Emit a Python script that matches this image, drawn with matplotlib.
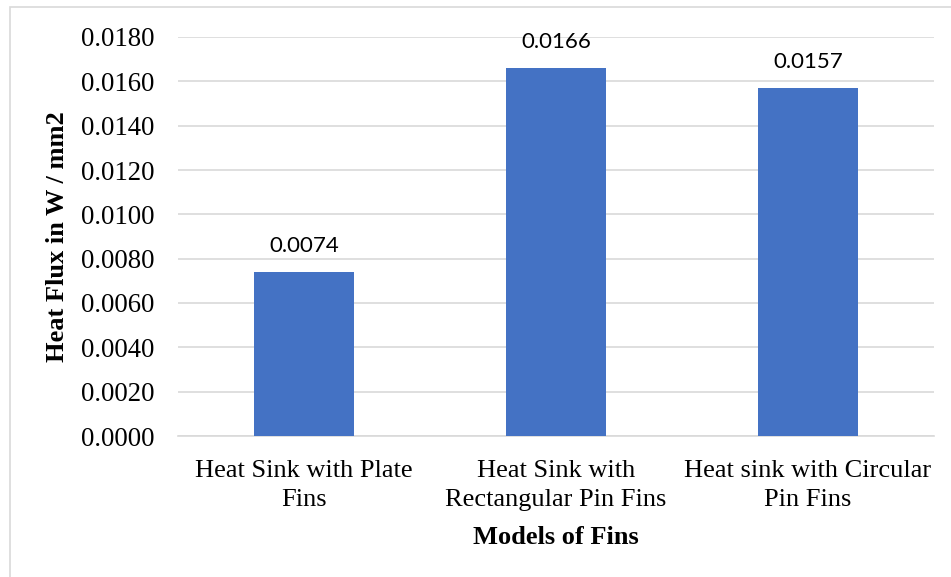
import matplotlib
matplotlib.use("Agg")
import matplotlib.pyplot as plt
from matplotlib.patches import Rectangle

categories = ["Heat Sink with Plate\nFins", "Heat Sink with\nRectangular Pin Fins", "Heat sink with Circular\nPin Fins"]
values = [0.0074, 0.0166, 0.0157]
yticks = [0.0, 0.002, 0.004, 0.006, 0.008, 0.010, 0.012, 0.014, 0.016, 0.018]

W, H = 951, 577
fig = plt.figure(figsize=(W / 100, H / 100), dpi=100)
fig.patch.set_facecolor("white")

# chart border (extends beyond right/bottom)
fig.patches.append(Rectangle((10 / W, -0.1), 1.2, 1 - 7 / H + 0.1, transform=fig.transFigure,
                             fill=False, edgecolor="#d9d9d9", linewidth=1.2, zorder=0))

ax = fig.add_axes([178 / W, 1 - 436 / H, (934 - 178) / W, (436 - 37) / H])
x = list(range(len(categories)))
bars = ax.bar(x, values, width=0.4, color="#4472C4", zorder=3)
ax.set_xlim(-0.5, len(categories) - 0.5)
ax.set_ylim(0, 0.018)
ax.set_yticks(yticks)
ax.set_yticklabels([f"{t:.4f}" for t in yticks], fontfamily="Liberation Serif", fontsize=19.3)
ax.set_xticks(x)
ax.set_xticklabels(categories, fontfamily="Liberation Serif", fontsize=19, linespacing=1.46)
ax.tick_params(axis="both", length=0)
ax.tick_params(axis="y", pad=17)
ax.tick_params(axis="x", pad=17)
ax.grid(axis="y", color="#d9d9d9", linewidth=1.2, zorder=0)
for s in ["top", "right", "left"]:
    ax.spines[s].set_visible(False)
ax.spines["bottom"].set_color("#d9d9d9")
ax.spines["bottom"].set_linewidth(1.2)

for xi, v in zip(x, values):
    ax.annotate(f"{v:.4f}", (xi, v), xytext=(0, 19), textcoords="offset points",
                ha="center", va="center", fontfamily="Lato", fontsize=16, color="black")

fig.text(58 / W, 1 - 237 / H, "Heat Flux in W / mm2", rotation=90, ha="center", va="center",
         fontfamily="Liberation Serif", fontweight="bold", fontsize=19)
fig.text(556 / W, 1 - 537 / H, "Models of Fins", ha="center", va="center",
         fontfamily="Liberation Serif", fontweight="bold", fontsize=19)

fig.savefig("out.png", dpi=100)
